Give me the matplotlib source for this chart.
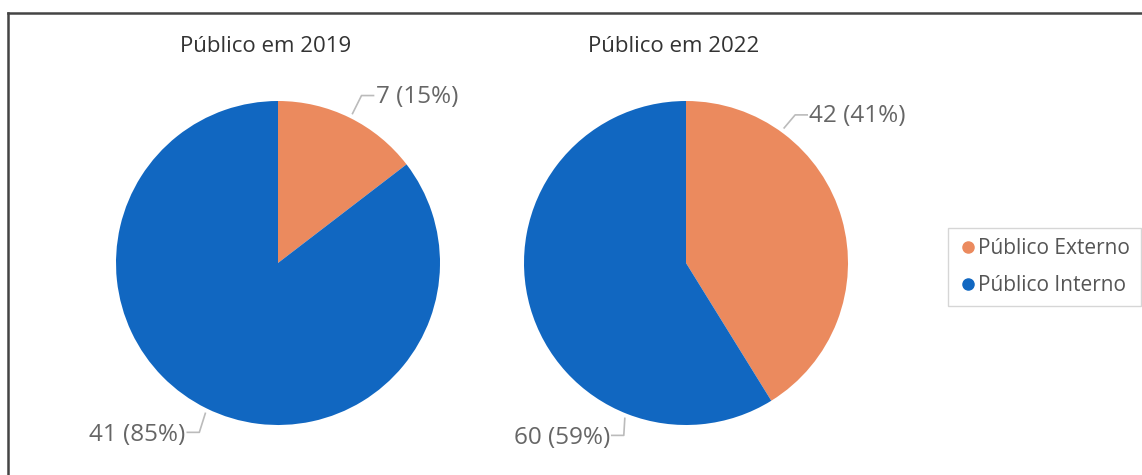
import numpy as np
import matplotlib
matplotlib.use("Agg")
from matplotlib import pyplot as plt
from matplotlib.lines import Line2D

# dados
categorias = ['Público Externo', 'Público Interno']
anos = ['2019', '2022']
valores_2019 = [7, 41]
valores_2022 = [42, 60]
cores = ['#EB8A5E', '#1167C1']

plt.rcParams['font.family'] = ['Open Sans', 'DejaVu Sans']

W, H = 1142, 475
fig = plt.figure(figsize=(W / 100, H / 100), dpi=100)
ax = fig.add_axes([0, 0, 1, 1])

raio = 162
centros = [(278, H - 263), (686, H - 263)]
# angulo (graus) onde a linha do rotulo comeca e deslocamento do cotovelo (px)
angulos_rotulo = [[63.5, -115.8], [54.0, -111.5]]
cotovelos = [[(9, 18), (-6, -19)], [(11, 13), (-1, -17)]]

for valores, ano, (cx, cy), angs, cots in zip([valores_2019, valores_2022], anos, centros,
                                              angulos_rotulo, cotovelos):
    ax.pie(valores, colors=cores, startangle=90, counterclock=False,
           center=(cx, cy), radius=raio, frame=True,
           wedgeprops={'linewidth': 0})
    ax.text(cx - 12, H - 47, 'Público em ' + ano, ha='center', va='center',
            fontsize=16, color='#333333')
    total = sum(valores)
    for v, a, (dx, dy) in zip(valores, angs, cots):
        rad = np.radians(a)
        x0, y0 = cx + (raio + 5) * np.cos(rad), cy + (raio + 5) * np.sin(rad)
        x1, y1 = x0 + dx, y0 + dy
        lado = 1 if dx >= 0 else -1
        x2 = x1 + 12 * lado
        ax.plot([x0, x1, x2], [y0, y1, y1], color='#BBBBBB', lw=1.2)
        pct = round(100 * v / total)
        ax.text(x2 + 2 * lado, y1 - (1 if dy > 0 else 3), f'{v} ({pct}%)',
                ha='left' if lado > 0 else 'right',
                va='center', fontsize=17.5, color='#666666')

ax.set_xlim(0, W)
ax.set_ylim(0, H)
ax.set_aspect('equal')
ax.axis('off')

# moldura
fig.add_artist(Line2D([8 / W, 1], [1 - 13 / H, 1 - 13 / H], color='#444444', lw=1.8))
fig.add_artist(Line2D([8 / W, 8 / W], [0, 1 - 13 / H], color='#444444', lw=1.8))

handles = [Line2D([], [], marker='o', ls='', color=c, markersize=8) for c in cores]
leg = ax.legend(handles, categorias, loc='upper left',
                bbox_to_anchor=(948 / W, 1 - 228 / H), bbox_transform=fig.transFigure,
                fontsize=15, frameon=True, fancybox=False, handletextpad=0.05,
                handlelength=0.9, borderpad=0.5, labelspacing=0.75, borderaxespad=0)
leg.get_frame().set_edgecolor('#CCCCCC')
leg.get_frame().set_linewidth(1)
for t in leg.get_texts():
    t.set_color('#555555')

fig.savefig('out.png', dpi=100)
